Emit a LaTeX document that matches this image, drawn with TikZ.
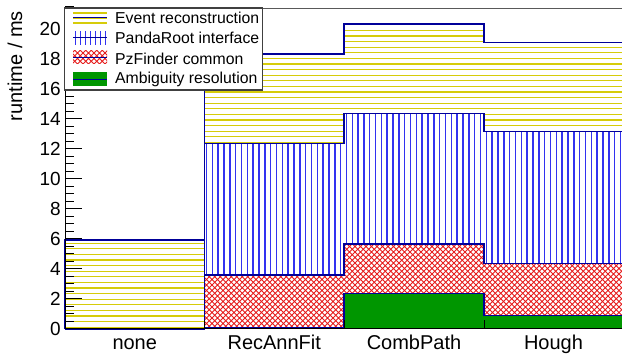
\documentclass[tikz,border=0pt]{standalone}
\usepackage{fontspec}
\setmainfont{Liberation Sans}
\definecolor{evy}{RGB}{214,204,10}
\definecolor{pbl}{RGB}{50,50,240}
\definecolor{pzr}{RGB}{230,30,30}
\definecolor{amg}{RGB}{0,150,0}
\definecolor{outl}{RGB}{0,0,153}
\tikzset{
  yline/.style={draw=evy, line width=1.2pt},
  vline/.style={draw=pbl, line width=1.5pt},
  hline/.style={draw=pzr, line width=0.8pt},
  histo/.style={draw=outl, line width=1.3pt, line join=miter},
  whitefill/.style={fill=white, draw=none},
  ticklab/.style={anchor=east, font=\fontsize{19}{22}\selectfont, inner sep=0pt},
  binlab/.style={anchor=base, font=\fontsize{20}{24}\selectfont, inner sep=0pt},
  legtext/.style={anchor=west, font=\fontsize{15.8}{18}\selectfont, inner sep=0pt},
  axisline/.style={draw=black, line width=1pt},
}
\begin{document}
\begin{tikzpicture}[x=1pt,y=1pt]
\useasboundingbox (0,0) rectangle (622,356);
\fill[white] (0,0) rectangle (622,356);

% ---- Event reconstruction (total) ----
\path[whitefill] (65,27) -- (65,116) -- (204.5,116) -- (204.5,302) -- (344,302) -- (344,332) -- (484,332) -- (484,313.3) -- (623,313.3) -- (623,27) -- cycle;
\begin{scope}
\clip (65,27) -- (65,116) -- (204.5,116) -- (204.5,302) -- (344,302) -- (344,332) -- (484,332) -- (484,313.3) -- (623,313.3) -- (623,27) -- cycle;
\draw[yline] foreach \yy in {28.8,34.4,...,348} {(65,\yy) -- (623,\yy)};
\end{scope}
\draw[histo] (65,27) -- (65,116) -- (204.5,116) -- (204.5,302) -- (344,302) -- (344,332) -- (484,332) -- (484,313.3) -- (623,313.3);

% ---- PandaRoot interface ----
\path[whitefill] (65,27) -- (204.5,27) -- (204.5,212.7) -- (344,212.7) -- (344,242.7) -- (484,242.7) -- (484,224.3) -- (623,224.3) -- (623,27) -- cycle;
\begin{scope}
\clip (65,27) -- (204.5,27) -- (204.5,212.7) -- (344,212.7) -- (344,242.7) -- (484,242.7) -- (484,224.3) -- (623,224.3) -- (623,27) -- cycle;
\draw[vline] foreach \n in {0,...,72} {({206.5+5.83*\n},27) -- ({206.5+5.83*\n},250)};
\end{scope}
\draw[histo] (65,27) -- (204.5,27) -- (204.5,212.7) -- (344,212.7) -- (344,242.7) -- (484,242.7) -- (484,224.3) -- (623,224.3);

% ---- PzFinder common ----
\path[whitefill] (65,27) -- (204.5,27) -- (204.5,81) -- (344,81) -- (344,112) -- (484,112) -- (484,92.7) -- (623,92.7) -- (623,27) -- cycle;
\begin{scope}
\clip (65,27) -- (204.5,27) -- (204.5,81) -- (344,81) -- (344,112) -- (484,112) -- (484,92.7) -- (623,92.7) -- (623,27) -- cycle;
\draw[hline] foreach \n in {0,...,150} {({80+5.5*\n},27) -- ++(120,120) ({80+5.5*\n},27) -- ++(-120,120)};
\end{scope}
\draw[histo] (65,27) -- (204.5,27) -- (204.5,81) -- (344,81) -- (344,112) -- (484,112) -- (484,92.7) -- (623,92.7);

% ---- Ambiguity resolution ----
\path[fill=amg] (65,27) -- (204.5,27) -- (204.5,28.5) -- (344,28.5) -- (344,62.7) -- (484,62.7) -- (484,40.7) -- (623,40.7) -- (623,27) -- cycle;
\draw[histo] (65,27) -- (204.5,27) -- (204.5,28.5) -- (344,28.5) -- (344,62.7) -- (484,62.7) -- (484,40.7) -- (623,40.7);

% ---- axes ----
\foreach \v in {0,0.5,...,21.5} \draw[black, line width=1pt] (65,{27+15*\v}) -- ++(8.5,0);
\foreach \v in {0,2,...,20} \draw[black, line width=1pt] (65,{27+15*\v}) -- ++(17,0);
\foreach \xx in {204.5,344,484} \draw[black, line width=1pt] (\xx,27) -- ++(0,9);
\draw[axisline] (65,347.5) -- (65,27) -- (623,27);
\draw[draw=black!65, line width=1.3pt] (65,347.5) -- (623,347.5);

\foreach \v in {0,2,...,20} \node[ticklab] (yt\v) at (61,{27+15*\v}) {\v};
\node[rotate=90, font=\fontsize{20}{24}\selectfont, inner sep=0pt] (ytitle) at (15,290) {runtime / ms};

\node[binlab] (bnone) at (134.75,6) {none};
\node[binlab] (brec) at (274.25,6) {RecAnnFit};
\node[binlab] (bcomb) at (414,6) {CombPath};
\node[binlab] (bhough) at (553.5,6) {Hough};

% ---- legend ----
\draw[fill=white, draw=black!75, line width=1.1pt] (64.5,266) rectangle (262.5,348);
% entry 1
\begin{scope}
\clip (73,332) rectangle (107,346);
\draw[yline] foreach \yy in {333,338,343} {(73,\yy) -- (107,\yy)};
\end{scope}
\draw[outl, line width=1pt] (73,338) -- (107,338);
\node[legtext] (l1) at (115,338.5) {Event reconstruction};
% entry 2
\begin{scope}
\clip (73,311) rectangle (107,325);
\draw[vline] foreach \xx in {75.3,80.3,...,107} {(\xx,311) -- (\xx,325)};
\end{scope}
\draw[outl, line width=1pt] (73,318) -- (107,318);
\node[legtext] (l2) at (115,318) {PandaRoot interface};
% entry 3
\begin{scope}
\clip (73,292) rectangle (107,305);
\draw[hline] foreach \n in {0,...,14} {({50+5.5*\n},292) -- ++(20,20) ({50+5.5*\n},292) -- ++(-20,20)};
\end{scope}
\draw[outl, line width=1pt] (73,298.5) -- (107,298.5);
\node[legtext] (l3) at (115,297.5) {PzFinder common};
% entry 4
\fill[amg] (73,269.5) rectangle (107,283.5);
\draw[outl, line width=1pt] (73,276.5) -- (107,276.5);
\node[legtext] (l4) at (115,277) {Ambiguity resolution};
\end{tikzpicture}
\end{document}
